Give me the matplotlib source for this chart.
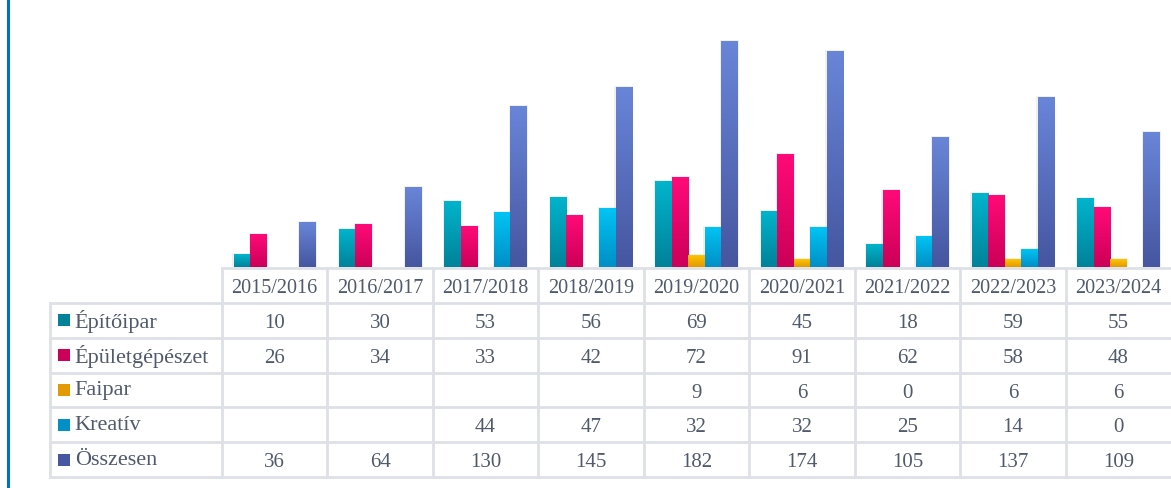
import numpy as np
import matplotlib
matplotlib.use("Agg")
import matplotlib.pyplot as plt
from matplotlib.colors import LinearSegmentedColormap
from matplotlib.patches import Rectangle

years = ["2015/2016", "2016/2017", "2017/2018", "2018/2019", "2019/2020",
         "2020/2021", "2021/2022", "2022/2023", "2023/2024"]
series_names = ["Építőipar", "Épületgépészet", "Faipar", "Kreatív", "Összesen"]

epitoipar = [10, 30, 53, 56, 69, 45, 18, 59, 55]
epuletgepeszet = [26, 34, 33, 42, 72, 91, 62, 58, 48]
faipar = [None, None, None, None, 9, 6, 0, 6, 6]
kreativ = [None, None, 44, 47, 32, 32, 25, 14, 0]
osszesen = [36, 64, 130, 145, 182, 174, 105, 137, 109]
all_series = [epitoipar, epuletgepeszet, faipar, kreativ, osszesen]

# (top, bottom) gradient colours
colors = [("#00b4cc", "#00829a"), ("#ff0a78", "#cc0058"), ("#ffc400", "#e29a00"),
          ("#00c4f4", "#008fc6"), ("#6985d8", "#4656a0")]
text_color = "#4f5a6c"
grid_color = "#dde1e7"

W, H = 1171, 489
fig = plt.figure(figsize=(W / 100, H / 100), dpi=100)
plt.rcParams['font.family'] = ['Liberation Serif', 'DejaVu Serif']

# bar chart
ax = fig.add_axes([222 / W, (H - 268) / H, (W - 222) / W, 250 / H])
x = np.arange(len(years))
bw = 0.156
for i, (vals, (ctop, cbot)) in enumerate(zip(all_series, colors)):
    h = [v if v else 0 for v in vals]
    bars = ax.bar(x + (i - 2) * bw, h, width=bw, color="none", linewidth=0)
    cmap = LinearSegmentedColormap.from_list("g%d" % i, [cbot, ctop])
    for b in bars:
        if b.get_height() <= 0:
            continue
        x0, y0 = b.get_x(), b.get_y()
        # soft shadow
        ax.add_patch(Rectangle((x0 - 0.012, y0), b.get_width() + 0.024, b.get_height() + 1.2,
                               facecolor="#000000", alpha=0.06, linewidth=0, zorder=1))
        ax.imshow(np.linspace(0, 1, 64).reshape(-1, 1), cmap=cmap, origin="lower",
                  extent=[x0, x0 + b.get_width(), y0, y0 + b.get_height()],
                  aspect="auto", zorder=2, interpolation="bilinear")
ax.set_xlim(-0.5, len(years) - 0.5)
ax.set_ylim(0, 202)
ax.axis("off")

# data table
tab = fig.add_axes([50 / W, (H - 478) / H, (W - 50) / W, 209 / H])
left = -0.5 - (222 - 50) / ((W - 222) / len(years))
tab.set_xlim(left, len(years) - 0.5)
tab.set_ylim(6, 0)
tab.axis("off")
lw = 2
tab.plot([-0.5, len(years) - 0.5], [0, 0], color=grid_color, lw=lw, clip_on=False)
for r in range(1, 7):
    tab.plot([left, len(years) - 0.5], [r, r], color=grid_color, lw=lw, clip_on=False)
for k in range(len(years)):
    tab.plot([k - 0.5, k - 0.5], [0, 6], color=grid_color, lw=lw, clip_on=False)
tab.plot([left, left], [1, 6], color=grid_color, lw=lw, clip_on=False)

for k, yr in enumerate(years):
    tab.text(k, 0.55, yr, ha="center", va="center", fontsize=14.5, color=text_color)
for r, (name, vals, (ctop, cbot)) in enumerate(zip(series_names, all_series, colors)):
    yc = r + 1.5
    tab.add_patch(Rectangle((left + 0.075, yc - 0.17), 0.11, 0.34,
                            facecolor=cbot, edgecolor="none", clip_on=False))
    tab.text(left + 0.235, yc + 0.0, name, ha="left", va="center", fontsize=16, color=text_color)
    for k, v in enumerate(vals):
        if v is not None:
            tab.text(k, yc + 0.06, str(v), ha="center", va="center", fontsize=15, color=text_color)

# blue border on the left
fig.add_artist(plt.Line2D([8 / W, 8 / W], [0, 1], color="#0070c0", lw=2.2))

fig.savefig("out.png", dpi=100)
